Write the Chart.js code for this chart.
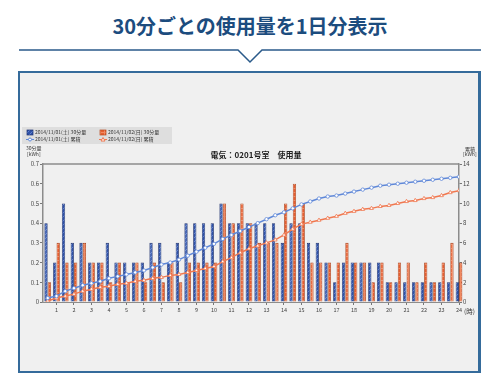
<!DOCTYPE html>
<html><head><meta charset="utf-8">
<script src="https://cdn.jsdelivr.net/npm/chart.js@4.4.0/dist/chart.umd.min.js"></script>
<style>
html,body{margin:0;padding:0;background:#fff;width:500px;height:380px;overflow:hidden;font-family:"Noto Sans CJK JP",sans-serif}
#hdr{position:absolute;left:0;top:11px;width:500px;text-align:center;font-size:20px;font-weight:bold;color:#1c4c7e;line-height:30px}
#deco{position:absolute;left:0;top:0}
#panel{position:absolute;left:18px;top:71px;width:458px;height:298px;border:2px solid #356b9b;border-right-width:3px;background:#f0f0f0}
#c{position:absolute;left:0;top:0}
</style></head>
<body>
<div id="hdr">30分ごとの使用量を1日分表示</div>
<svg id="deco" width="500" height="70"><polyline points="19,50 238,50 250,62 262,50 481,50" fill="none" stroke="#2a5a8a" stroke-width="1.5"/></svg>
<div id="panel"></div>
<canvas id="c" width="500" height="380"></canvas>
<script>
// ---- data ----
const hourLabels = ['1','2','3','4','5','6','7','8','9','10','11','12','13','14','15','16','17','18','19','20','21','22','23','24'];
const leftTicks = [0,0.1,0.2,0.3,0.4,0.5,0.6,0.7];
const leftTickLabels = ['0','0.1','0.2','0.3','0.4','0.5','0.6','0.7'];
const rightTicks = [0,2,4,6,8,10,12,14];
const seriesNames = ['2014/11/01(土) 30分量','2014/11/02(日) 30分量','2014/11/01(土) 累積','2014/11/02(日) 累積'];
const usage1101 = [0.4,0.2,0.5,0.3,0.3,0.2,0.2,0.3,0.2,0.2,0.2,0.2,0.3,0.3,0.2,0.3,
                   0.4,0.4,0.4,0.4,0.5,0.4,0.4,0.4,0.4,0.4,0.4,0.3,0.4,0.4,0.3,0.3,
                   0.2,0.1,0.2,0.2,0.2,0.2,0.2,0.1,0.1,0.1,0.1,0.1,0.1,0.1,0.1,0.1];
const usage1102 = [0.1,0.3,0.2,0.2,0.3,0.2,0.2,0.1,0.2,0.1,0.2,0.1,0.2,0.1,0.2,0.1,
                   0.2,0.2,0.2,0.2,0.5,0.4,0.5,0.4,0.3,0.3,0.3,0.5,0.6,0.5,0.2,0.2,
                   0.2,0.2,0.3,0.2,0.2,0.1,0.2,0.1,0.2,0.2,0.1,0.2,0.1,0.2,0.3,0.2];
const cum1101 = [0.4,0.6,1.1,1.4,1.7,1.9,2.1,2.4,2.6,2.8,3.0,3.2,3.5,3.8,4.0,4.3,
                 4.7,5.1,5.5,5.9,6.4,6.8,7.2,7.6,8.0,8.4,8.8,9.1,9.5,9.9,10.2,10.5,
                 10.7,10.8,11.0,11.2,11.4,11.6,11.8,11.9,12.0,12.1,12.2,12.3,12.4,12.5,12.6,12.7];
const cum1102 = [0.1,0.4,0.6,0.8,1.1,1.3,1.5,1.6,1.8,1.9,2.1,2.2,2.4,2.5,2.7,2.8,
                 3.0,3.2,3.4,3.6,4.1,4.5,5.0,5.4,5.7,6.0,6.3,6.8,7.4,7.9,8.1,8.3,
                 8.5,8.7,9.0,9.2,9.4,9.5,9.7,9.8,10.0,10.2,10.3,10.5,10.6,10.8,11.1,11.3];

const F = '"Noto Sans CJK JP", "Noto Sans", sans-serif';
const canvas = document.getElementById('c');
const ctx = canvas.getContext('2d');

function mkPattern(type){
  const c=document.createElement('canvas'); c.width=4; c.height=4; const g=c.getContext('2d');
  if(type==='b'){
    g.fillStyle='#2f52a8'; g.fillRect(0,0,4,4);
    g.strokeStyle='#5f80cf'; g.lineWidth=1; g.beginPath(); g.moveTo(0,4); g.lineTo(4,0); g.stroke();
  } else {
    g.fillStyle='#e65e30'; g.fillRect(0,0,4,4);
    g.fillStyle='#f08a62'; g.fillRect(0,0,4,1); g.fillRect(0,0,1,4);
  }
  return ctx.createPattern(c,'repeat');
}
const patB = mkPattern('b'), patO = mkPattern('o');
const toPts = arr => arr.map((v,i)=>({x:i,y:v}));

const decor = {
  id:'decor',
  beforeDatasetsDraw(chart){
    const a=chart.chartArea, g=chart.ctx;
    g.save(); g.strokeStyle='#8c8c8c'; g.lineWidth=1.5;
    g.beginPath(); g.moveTo(a.left,a.top); g.lineTo(a.right,a.top); g.stroke();
    g.restore();
  },
  afterDraw(chart){
    const g=chart.ctx; g.save();
    // legend box
    g.fillStyle='#dedede'; g.fillRect(22,127,150,17);
    g.font='5px '+F; g.fillStyle='#333'; g.textBaseline='middle'; g.textAlign='left';
    // row 1
    g.fillStyle=patB; g.fillRect(27,130,6,5); g.strokeStyle='#1f3475'; g.lineWidth=0.7; g.strokeRect(27,130,6,5);
    g.fillStyle=patO; g.fillRect(100,130,6,5); g.strokeStyle='#b84a20'; g.strokeRect(100,130,6,5);
    g.fillStyle='#333';
    g.fillText(seriesNames[0],35,132.5);
    g.fillText(seriesNames[1],108,132.5);
    // row 2
    g.strokeStyle='#5f88d8'; g.lineWidth=1; g.beginPath(); g.moveTo(26,139.5); g.lineTo(34,139.5); g.stroke();
    g.fillStyle='#fff'; g.beginPath(); g.arc(30,139.5,1.5,0,Math.PI*2); g.fill(); g.stroke();
    g.strokeStyle='#f07850'; g.beginPath(); g.moveTo(99,139.5); g.lineTo(107,139.5); g.stroke();
    g.beginPath(); g.moveTo(103,137.5); g.lineTo(105,141); g.lineTo(101,141); g.closePath(); g.fill(); g.stroke();
    g.fillStyle='#333';
    g.fillText(seriesNames[2],35,139.5);
    g.fillText(seriesNames[3],108,139.5);
    // chart title
    g.font='bold 8px '+F; g.textAlign='center'; g.fillStyle='#222';
    g.fillText('電気：0201号室　使用量',256,155);
    // axis units
    g.font='5px '+F; g.textAlign='left'; g.fillStyle='#333';
    g.fillText('30分量',26,148); g.fillText('[kWh]',27,154);
    g.fillText('累積',465,149); g.fillText('[kWh]',463,154.5);
    g.font='6.5px '+F; g.fillText('(時)',464,311.5);
    g.restore();
  }
};

new Chart(ctx,{
  type:'bar',
  data:{datasets:[
    {type:'line',label:seriesNames[2],data:toPts(cum1101),yAxisID:'y1',borderColor:'#5f88d8',borderWidth:1.5,
     pointStyle:'circle',pointRadius:1.7,pointBackgroundColor:'#fff',pointBorderColor:'#5f88d8',pointBorderWidth:0.8,tension:0,order:0},
    {type:'line',label:seriesNames[3],data:toPts(cum1102),yAxisID:'y1',borderColor:'#f07850',borderWidth:1.5,
     pointStyle:'triangle',pointRadius:2.2,pointBackgroundColor:'#fff',pointBorderColor:'#f07850',pointBorderWidth:0.8,tension:0,order:0},
    {label:seriesNames[0],data:toPts(usage1101),yAxisID:'y',backgroundColor:patB,borderColor:'#1c2f6c',borderWidth:0.8,
     categoryPercentage:0.78,barPercentage:0.96,order:1,clip:false},
    {label:seriesNames[1],data:toPts(usage1102),yAxisID:'y',backgroundColor:patO,borderColor:'#a8401a',borderWidth:0.8,
     categoryPercentage:0.78,barPercentage:0.96,order:1,clip:false}
  ]},
  options:{
    responsive:false, animation:false, devicePixelRatio:1,
    layout:{padding:{top:164,left:0,right:0,bottom:0}},
    plugins:{legend:{display:false},tooltip:{enabled:false}},
    scales:{
      x:{type:'linear',min:-0.54,max:47,offset:false,
        afterFit(s){s.height=78;},
        afterBuildTicks(s){s.ticks=hourLabels.map((h,i)=>({value:2*i+1}));},
        ticks:{autoSkip:false,maxRotation:0,padding:2,font:{size:5.5,family:F},color:'#444',
               callback:(v)=>hourLabels[Math.round((v-1)/2)]},
        grid:{drawOnChartArea:false,tickLength:3,color:'#777',offset:false},
        border:{color:'#8c8c8c',width:1}},
      y:{position:'left',min:0,max:0.7,
        afterFit(s){s.width=43;},
        afterBuildTicks(s){s.ticks=leftTicks.map(v=>({value:v}));},
        ticks:{padding:1,font:{size:6,family:F},color:'#444',
               callback:(v,i)=>leftTickLabels[i]},
        grid:{drawOnChartArea:false,tickLength:3,color:'#777'},
        border:{color:'#8c8c8c',width:1.5}},
      y1:{position:'right',min:0,max:14,
        afterFit(s){s.width=41;},
        afterBuildTicks(s){s.ticks=rightTicks.map(v=>({value:v}));},
        ticks:{padding:1,font:{size:6,family:F},color:'#444',callback:(v)=>String(v)},
        grid:{drawOnChartArea:false,tickLength:3,color:'#777'},
        border:{color:'#8c8c8c',width:1.5}}
    }
  },
  plugins:[decor]
});
</script>
</body></html>
